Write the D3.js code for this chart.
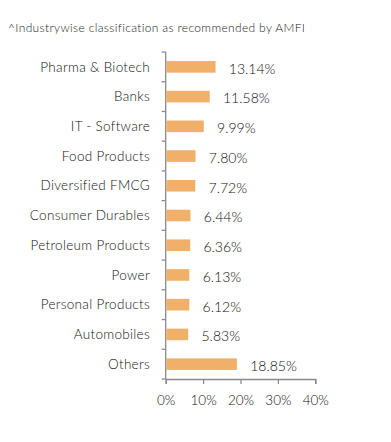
<!DOCTYPE html>
<html><head><meta charset="utf-8">
<script src="https://cdn.jsdelivr.net/npm/d3@7"></script>
<style>body{margin:0;background:#fff;}svg{display:block;font-family:Lato,sans-serif;font-weight:300;}</style>
</head><body><div id="chart"></div>
<script>
const title = "^Industrywise classification as recommended by AMFI";
const categories = ["Pharma & Biotech","Banks","IT - Software","Food Products","Diversified FMCG","Consumer Durables","Petroleum Products","Power","Personal Products","Automobiles","Others"];
const values = [13.14,11.58,9.99,7.80,7.72,6.44,6.36,6.13,6.12,5.83,18.85];
const xTicks = [0,10,20,30,40];

const W=391,H=442;
const svg=d3.select("#chart").append("svg").attr("width",W).attr("height",H);
const x=d3.scaleLinear().domain([0,40]).range([165.7,315.3]);
const y=d3.scaleBand().domain(categories).range([52,379]).paddingInner(0.61).paddingOuter(0.305);

svg.append("text").attr("x",8).attr("y",32).attr("font-size",12).attr("letter-spacing",0.35).attr("fill","#222").text(title);

const axisColor="#8a8a8a";
svg.append("line").attr("x1",x(0)).attr("x2",x(0)).attr("y1",52).attr("y2",379).attr("stroke",axisColor).attr("stroke-width",1.3);
d3.range(categories.length+1).forEach(i=>{
  const yy=52+i*(327/categories.length);
  svg.append("line").attr("x1",x(0)-4).attr("x2",x(0)).attr("y1",yy).attr("y2",yy).attr("stroke",axisColor).attr("stroke-width",1.3);
});
const xa=svg.append("g").attr("transform","translate(0,379)")
  .call(d3.axisBottom(x).tickValues(xTicks).tickFormat(d=>d+"%").tickSize(5).tickPadding(11));
xa.select(".domain").attr("stroke",axisColor).attr("stroke-width",1.3);
xa.selectAll(".tick line").attr("stroke",axisColor).attr("stroke-width",1.3);
xa.selectAll(".tick text").attr("font-size",13.5).attr("fill","#111").attr("font-family","Lato,sans-serif").attr("font-weight",300);

svg.selectAll("rect.bar").data(values).enter().append("rect")
  .attr("x",x(0)+0.7).attr("y",(d,i)=>y(categories[i]))
  .attr("width",d=>x(d)-x(0)).attr("height",y.bandwidth()).attr("fill","#F0B06A");

svg.selectAll("text.cat").data(categories).enter().append("text")
  .attr("x",150).attr("y",d=>y(d)+y.bandwidth()/2).attr("dy","0.35em")
  .attr("text-anchor","end").attr("font-size",13.5).attr("letter-spacing",0.3).attr("fill","#111").text(d=>d);

svg.selectAll("text.val").data(values).enter().append("text")
  .attr("x",d=>x(d)+14).attr("y",(d,i)=>y(categories[i])+y.bandwidth()/2+2).attr("dy","0.35em")
  .attr("font-size",14).attr("fill","#111").text(d=>d.toFixed(2)+"%");
</script></body></html>
